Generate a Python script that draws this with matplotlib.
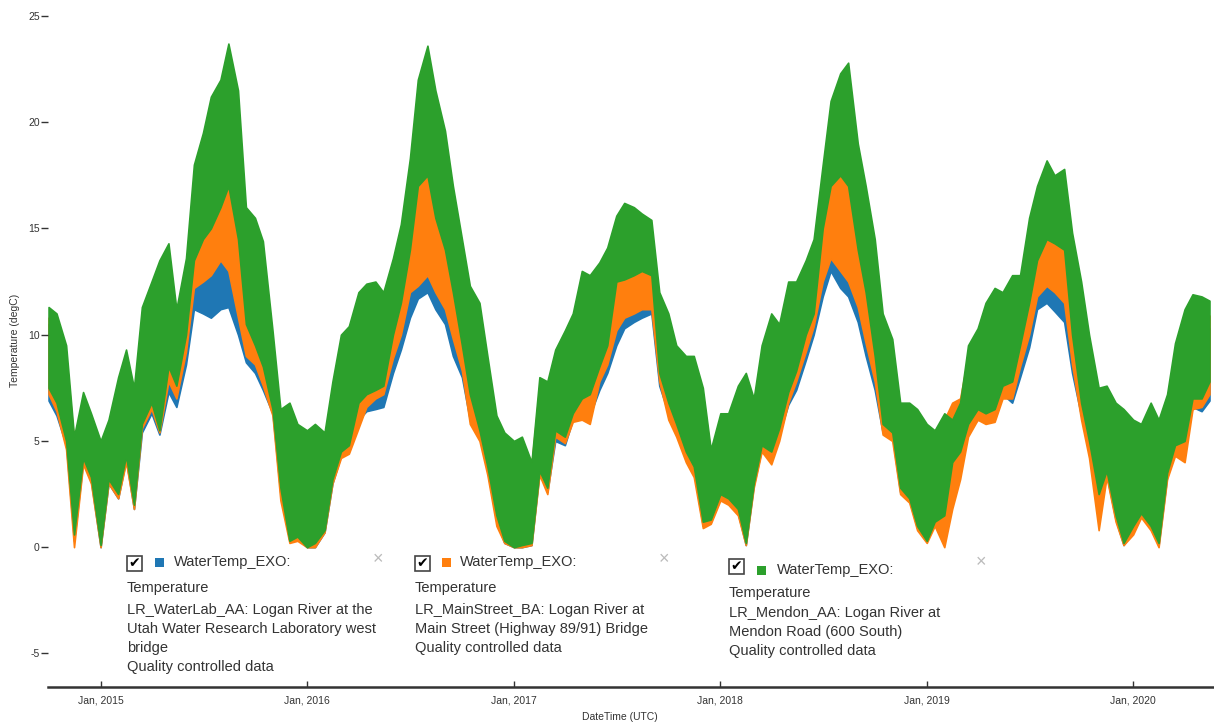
import numpy as np
import pandas as pd
import matplotlib
matplotlib.use("Agg")
import matplotlib.pyplot as plt
from matplotlib.patches import Rectangle

plt.rcParams['font.family'] = ['Liberation Sans', 'DejaVu Sans']

# ---------- data (semi-monthly envelopes, degC) ----------
dates = pd.date_range("2014-10-01", "2020-05-15", freq="SMS")

# LR_Mendon_AA (green) - daily max / min envelope
green_hi = [11.3, 11.0, 9.5, 5.2, 7.3, 6.3,
            5.0, 6.0, 8.0, 9.3, 7.5, 11.3, 12.5, 13.5, 14.3, 11.2, 13.6, 18.0,
            19.5, 21.2, 22.0, 23.7, 21.5, 16.0, 15.5, 14.4, 10.2, 6.5, 6.8, 5.8,
            5.5, 5.8, 5.4, 7.8, 10.0, 10.4, 12.0, 12.4, 12.5, 12.0, 13.6, 15.2,
            18.3, 22.0, 23.6, 21.5, 19.6, 17.0, 14.5, 12.3, 11.5, 9.0, 6.2, 5.4,
            5.0, 5.2, 4.0, 8.0, 7.8, 9.3, 10.2, 11.0, 13.0, 12.8, 13.4, 14.1,
            15.6, 16.2, 16.0, 15.7, 15.4, 12.0, 11.0, 9.5, 9.0, 9.0, 7.5, 4.6,
            6.3, 6.3, 7.6, 8.2, 7.0, 9.5, 11.0, 10.5, 12.5, 12.5, 13.5, 14.5,
            18.0, 21.0, 22.3, 22.8, 19.0, 17.0, 14.5, 11.0, 9.8, 6.8, 6.8, 6.5,
            5.8, 5.5, 6.3, 6.0, 6.8, 9.5, 10.3, 11.5, 12.2, 12.0, 12.8, 12.8,
            15.5, 17.0, 18.2, 17.5, 17.8, 14.8, 12.5, 10.0, 7.5, 7.6, 6.8, 6.5,
            6.0, 5.8, 6.8, 6.0, 7.2, 9.6, 11.2, 11.9, 11.8, 11.6]
green_lo = [7.5, 6.8, 5.0, 0.6, 4.2, 3.3,
            0.1, 3.2, 2.5, 4.3, 2.0, 5.8, 6.8, 5.5, 8.5, 7.6, 10.0, 13.5,
            14.5, 15.0, 16.0, 17.0, 14.5, 10.5, 9.5, 8.5, 6.5, 2.8, 0.3, 0.5,
            0.0, 0.2, 0.8, 3.2, 4.5, 4.8, 6.8, 7.2, 7.4, 7.6, 10.0, 11.5,
            14.0, 17.0, 17.5, 15.5, 14.0, 12.0, 9.5, 7.2, 5.5, 3.8, 1.5, 0.3,
            0.0, 0.1, 0.2, 3.6, 2.8, 5.5, 5.2, 6.3, 7.0, 7.2, 8.5, 9.5,
            12.5, 12.6, 12.8, 13.0, 12.8, 8.2, 6.8, 5.8, 4.5, 3.8, 1.2, 1.3,
            2.5, 2.3, 1.8, 0.2, 3.0, 4.8, 4.5, 5.6, 7.3, 8.3, 10.0, 11.0,
            15.0, 17.0, 17.5, 17.0, 14.0, 12.0, 9.0, 5.8, 5.4, 2.8, 2.3, 1.0,
            0.3, 1.2, 1.5, 4.0, 4.5, 5.8, 6.5, 6.3, 6.5, 7.6, 7.8, 9.5,
            11.5, 13.5, 14.5, 14.3, 14.0, 10.0, 6.8, 5.0, 2.5, 3.6, 1.5, 0.2,
            1.0, 1.6, 1.0, 0.2, 3.5, 4.8, 5.0, 7.0, 7.0, 7.8]

# LR_MainStreet_BA (orange)
orange_hi = [10.8, 10.5, 9.0, 5.0, 7.0, 6.0,
             4.8, 5.8, 7.6, 8.8, 7.2, 10.6, 11.6, 12.4, 13.0, 10.6, 12.4, 15.6,
             16.4, 17.4, 18.0, 18.4, 17.0, 14.0, 13.6, 12.6, 9.6, 6.2, 6.5, 5.6,
             5.3, 5.6, 5.2, 7.4, 9.5, 9.8, 11.2, 11.6, 11.8, 11.4, 12.6, 13.8,
             16.0, 18.5, 19.0, 18.0, 16.8, 15.0, 13.0, 11.5, 10.8, 8.6, 6.0, 5.2,
             4.8, 5.0, 3.9, 7.6, 7.4, 8.8, 9.6, 10.4, 12.0, 12.0, 12.4, 13.0,
             13.6, 13.8, 13.8, 13.8, 13.6, 11.2, 10.4, 9.0, 8.6, 8.6, 7.2, 4.4,
             6.0, 6.0, 7.2, 7.8, 6.7, 9.0, 10.4, 10.0, 11.6, 11.8, 12.6, 13.4,
             15.8, 18.0, 18.5, 18.2, 16.2, 14.6, 12.8, 10.4, 9.3, 6.5, 6.5, 6.2,
             5.6, 5.3, 6.0, 6.8, 7.0, 9.0, 9.8, 10.8, 11.4, 11.2, 11.8, 11.8,
             13.8, 15.0, 15.6, 15.2, 15.2, 13.4, 11.6, 9.4, 7.2, 7.3, 6.5, 6.2,
             5.8, 5.6, 6.5, 5.8, 6.9, 9.0, 10.4, 11.0, 11.0, 10.9]
orange_lo = [7.2, 6.4, 4.6, 0.0, 3.9, 3.0,
             0.0, 3.0, 2.3, 4.0, 1.8, 5.6, 6.5, 5.4, 7.8, 7.0, 9.2, 12.2,
             12.5, 12.8, 13.5, 13.0, 10.8, 9.0, 8.6, 7.6, 6.2, 2.2, 0.2, 0.3,
             0.0, 0.0, 0.7, 3.0, 4.2, 4.4, 5.6, 6.6, 7.0, 7.2, 8.9, 10.0,
             12.0, 12.3, 12.8, 12.0, 11.2, 9.8, 8.3, 5.8, 5.0, 3.4, 1.0, 0.2,
             0.0, 0.0, 0.1, 3.4, 2.5, 5.2, 4.9, 5.9, 6.0, 5.8, 7.8, 8.6,
             10.2, 10.8, 11.0, 11.2, 11.2, 7.8, 6.0, 5.2, 4.0, 3.3, 0.9, 1.1,
             2.2, 2.0, 1.5, 0.1, 2.8, 4.5, 3.9, 5.0, 6.8, 7.8, 9.2, 10.4,
             12.5, 13.6, 13.0, 12.5, 11.3, 9.6, 7.8, 5.3, 5.0, 2.5, 2.1, 0.8,
             0.2, 1.0, 0.0, 1.8, 3.2, 5.2, 6.0, 5.8, 5.9, 7.0, 7.0, 8.5,
             10.0, 11.8, 12.3, 12.0, 11.5, 8.6, 6.0, 4.2, 0.8, 3.3, 1.2, 0.1,
             0.6, 1.4, 0.8, 0.0, 3.2, 4.3, 4.0, 6.5, 6.6, 7.2]

# LR_WaterLab_AA (blue)
blue_hi = [10.5, 10.2, 8.8, 4.9, 6.8, 5.8,
           4.6, 5.6, 7.4, 8.5, 7.0, 10.2, 11.0, 11.8, 12.2, 10.0, 11.6, 14.0,
           14.6, 15.2, 15.6, 15.8, 14.8, 12.6, 12.4, 11.6, 9.0, 6.0, 6.2, 5.4,
           5.1, 5.4, 5.0, 7.2, 9.2, 9.5, 10.8, 11.0, 11.2, 10.8, 11.6, 12.4,
           14.2, 15.6, 16.0, 15.4, 14.6, 13.4, 11.8, 10.8, 10.2, 8.3, 5.8, 5.0,
           4.6, 4.8, 3.8, 7.3, 7.1, 8.4, 9.2, 9.8, 11.2, 11.2, 11.4, 11.8,
           12.2, 12.4, 12.4, 12.4, 12.4, 10.6, 9.8, 8.6, 8.2, 8.3, 7.0, 4.3,
           5.8, 5.8, 7.0, 7.5, 6.5, 8.6, 9.8, 9.6, 11.0, 11.2, 11.8, 12.4,
           14.2, 15.4, 15.8, 15.6, 14.4, 13.2, 11.8, 9.8, 8.9, 6.3, 6.3, 6.0,
           5.4, 5.1, 5.8, 6.5, 6.8, 8.6, 9.4, 10.2, 10.8, 10.6, 11.0, 11.0,
           12.6, 13.6, 14.0, 13.6, 13.6, 12.2, 10.8, 9.0, 7.0, 7.0, 6.3, 6.0,
           5.6, 5.4, 6.3, 5.6, 6.6, 8.6, 9.8, 10.4, 10.4, 10.3]
blue_lo = [6.9, 6.2, 4.8, 0.3, 4.0, 3.1,
           0.0, 3.0, 2.3, 4.1, 1.8, 5.4, 6.3, 5.3, 7.3, 6.6, 8.6, 11.2,
           11.0, 10.8, 11.2, 11.3, 10.0, 8.7, 8.2, 7.4, 6.3, 2.5, 0.3, 0.4,
           0.0, 0.0, 0.7, 3.0, 4.3, 4.5, 6.0, 6.4, 6.5, 6.6, 8.2, 9.3,
           10.8, 11.7, 12.0, 11.2, 10.5, 9.0, 8.0, 6.0, 5.2, 3.6, 1.2, 0.2,
           0.0, 0.0, 0.1, 3.5, 2.6, 5.0, 4.8, 6.0, 6.5, 6.2, 7.4, 8.2,
           9.5, 10.3, 10.6, 10.8, 11.0, 7.6, 6.3, 5.4, 4.3, 3.6, 1.0, 1.2,
           2.3, 2.1, 1.6, 0.1, 2.9, 4.6, 4.2, 5.3, 6.7, 7.4, 8.8, 10.0,
           11.8, 13.0, 12.2, 11.8, 10.6, 9.0, 7.4, 5.4, 5.2, 2.6, 2.2, 0.9,
           0.3, 1.1, 0.5, 2.0, 3.5, 5.5, 6.0, 6.0, 6.1, 7.2, 6.8, 8.0,
           9.4, 11.2, 11.5, 11.1, 10.6, 8.2, 6.2, 4.6, 1.5, 3.4, 1.3, 0.1,
           0.8, 1.5, 0.9, 0.1, 3.3, 4.6, 4.7, 6.6, 6.4, 6.9]

series_colors = ['#1f77b4', '#ff7f0e', '#2ca02c']
legend_sites = [
    ["LR_WaterLab_AA: Logan River at the", "Utah Water Research Laboratory west", "bridge"],
    ["LR_MainStreet_BA: Logan River at", "Main Street (Highway 89/91) Bridge"],
    ["LR_Mendon_AA: Logan River at", "Mendon Road (600 South)"],
]
tick_years = [2015, 2016, 2017, 2018, 2019, 2020]
y_ticks = [-5, 0, 5, 10, 15, 20, 25]

# ---------- figure ----------
W, H = 1214, 725
fig = plt.figure(figsize=(W / 100, H / 100), dpi=100)
ax = fig.add_axes([48 / W, 1 - 687 / H, 1 - 48 / W, 687 / H])


def fx(x):
    return x / W


def fy(y):
    return 1 - y / H


for lo, hi, c in [(blue_lo, blue_hi, series_colors[0]),
                  (orange_lo, orange_hi, series_colors[1]),
                  (green_lo, green_hi, series_colors[2])]:
    ax.fill_between(dates, lo, hi, color=c, linewidth=1.2, edgecolor=c)

ax.set_xlim(pd.Timestamp("2014-09-30"), pd.Timestamp("2020-05-23"))
ax.set_ylim(-6.58, 25.75)

for s in ['left', 'top', 'right']:
    ax.spines[s].set_visible(False)
ax.spines['bottom'].set_color('#333333')
ax.spines['bottom'].set_linewidth(1.8)

ax.set_yticks(y_ticks)
ax.set_yticklabels([f"{v}" for v in y_ticks])
ax.tick_params(axis='y', length=5, width=1, color='#333333', labelsize=7.5,
               labelcolor='#333333', pad=1)
ax.set_xticks([pd.Timestamp(f"{y}-01-01") for y in tick_years])
ax.set_xticklabels([f"Jan, {y}" for y in tick_years])
ax.tick_params(axis='x', direction='in', length=4, width=1, color='#333333',
               labelsize=7.5, labelcolor='#333333', pad=6)

fig.text(fx(15), fy(340), "Temperature (degC)", rotation=90, ha='center',
         va='center', fontsize=7.5, color='#333333')
fig.text(fx(620), fy(717), "DateTime (UTC)", ha='center', va='center',
         fontsize=7.5, color='#333333')

# ---------- legend blocks ----------
blocks = [
    dict(x=127, top=556, sq=155, tx=174, close=378, head=562,
         lines=[588, 610, 629, 648, 667]),
    dict(x=415, top=556, sq=442, tx=460, close=664, head=562,
         lines=[588, 610, 629, 648]),
    dict(x=729, top=559, sq=757, tx=777, close=981, head=570,
         lines=[593, 613, 632, 651]),
]
for b, c, site in zip(blocks, series_colors, legend_sites):
    x0, t = b['x'], b['top']
    fig.patches.append(Rectangle((fx(x0), fy(t + 15)), 15 / W, 15 / H,
                                 transform=fig.transFigure, fill=False,
                                 edgecolor='#444444', linewidth=1.2))
    fig.text(fx(x0 + 7.5), fy(t + 7.5), "\u2714", ha='center', va='center',
             fontsize=10, color='black', family='DejaVu Sans')
    fig.patches.append(Rectangle((fx(b['sq']), fy(b['head'] + 4.5)), 9 / W, 9 / H,
                                 transform=fig.transFigure, color=c, linewidth=0))
    fig.text(fx(b['tx']), fy(b['head']), "WaterTemp_EXO:", ha='left', va='center',
             fontsize=10.5, color='#333333')
    fig.text(fx(b['close']), fy(t + 4), "\u00d7", ha='center', va='center',
             fontsize=13, color='#bbbbbb')
    texts = ["Temperature"] + site + ["Quality controlled data"]
    for ln, yy in zip(texts, b['lines']):
        fig.text(fx(x0), fy(yy), ln, ha='left', va='center', fontsize=10.5,
                 color='#333333')

fig.savefig("out.png", dpi=100)
